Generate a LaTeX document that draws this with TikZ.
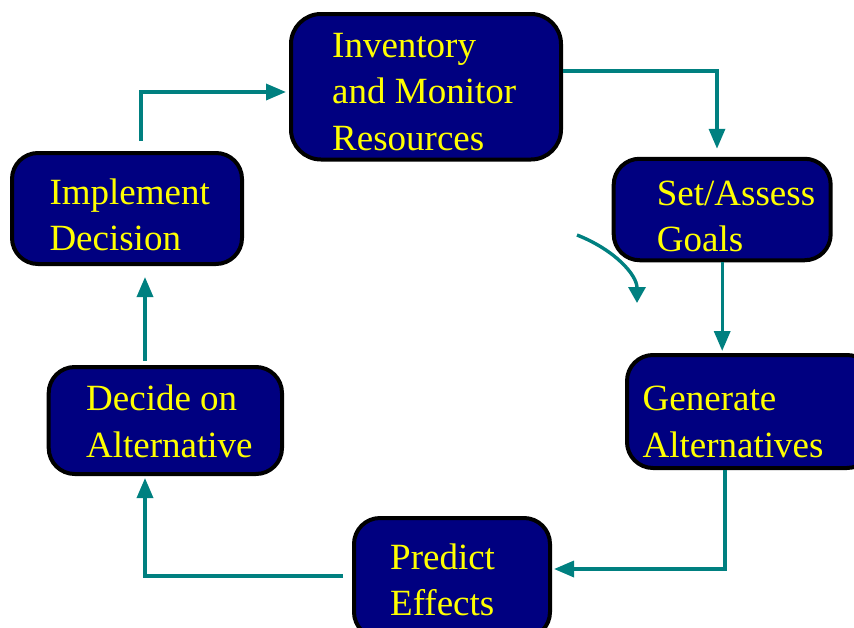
\documentclass[tikz,border=0pt]{standalone}
\usepackage{fontspec}
\setmainfont{Liberation Serif}
\usetikzlibrary{arrows.meta}

\definecolor{boxnavy}{RGB}{0,0,128}
\definecolor{flowteal}{RGB}{0,128,128}
\definecolor{labelyellow}{RGB}{255,255,0}

\tikzset{
  stagebox/.style={draw=black, line width=4pt, fill=boxnavy,
                   rounded corners=26pt, inner sep=0pt},
  stagetext/.style={anchor=base west, inner sep=0pt, text=labelyellow,
                    font=\fontsize{37}{46.5}\selectfont},
  flow/.style={draw=flowteal, line width=3.4pt,
               -{Triangle[length=20pt,width=16pt]}},
}

% left-aligned stack of lines whose baseline is that of the first line
\newcommand\stagelines[1]{\begin{tabular}[t]{@{}l@{}}#1\end{tabular}}

\begin{document}
\begin{tikzpicture}[x=1pt,y=-1pt]
  \clip (0,0) rectangle (854,627);

  % stage boxes
  \node[stagebox, rounded corners=30pt, minimum width=270pt, minimum height=145.5pt] (inv)  at (426,86.75) {};
  \node[stagebox, minimum width=217pt, minimum height=101.5pt]   (set)  at (722.2,209.5) {};
  \node[stagebox, minimum width=246pt, minimum height=113pt] (gen)  at (750,411.5) {};
  \node[stagebox, minimum width=196pt, minimum height=120pt] (pred) at (452,578) {};
  \node[stagebox, minimum width=233.3pt, minimum height=107pt] (dec)  at (165.35,420.5) {};
  \node[stagebox, minimum width=230pt, minimum height=111pt] (imp)  at (127,208.5) {};

  % stage labels
  \node[stagetext] (inv-t)  at (332,57)    {\stagelines{Inventory\\and Monitor\\Resources}};
  \node[stagetext] (set-t)  at (656.7,205) {\stagelines{Set/Assess\\Goals}};
  \node[stagetext] (gen-t)  at (642.5,410.7) {\stagelines{Generate\\Alternatives}};
  \node[stagetext] (pred-t) at (390,569.3) {\stagelines{Predict\\Effects}};
  \node[stagetext] (dec-t)  at (86,410.7)  {\stagelines{Decide on\\Alternative}};
  \node[stagetext] (imp-t)  at (49.3,204)  {\stagelines{Implement\\Decision}};

  % bend points of the connectors
  \coordinate (c1) at (141,92);
  \coordinate (c2) at (717,71);
  \coordinate (c4) at (725,569);
  \coordinate (c5) at (145,576);
  \coordinate (k1) at (577,235);
  \coordinate (k2) at (637,303);

  % cycle connectors
  \draw[flow, shorten <=10pt, shorten >=3pt] (imp.north -| c1) |- (inv.west |- c1);
  \draw[flow, shorten >=8pt] (inv.east |- c2) -| (set.north -| c2);
  \draw[flow, shorten >=2pt] (set.south) -- (gen.north -| set.south);
  \draw[flow, shorten >=2pt] (gen.south -| c4) |- (pred.east |- c4);
  \draw[flow, shorten <=9pt, shorten >=2pt] (pred.west |- c5) -| (dec.south -| c5);
  \draw[flow, shorten <=4pt, shorten >=11pt] (dec.north -| c5) -- (imp.south -| c5);

  % direction marker
  \draw[flow, -{Triangle[length=16pt,width=17pt]}]
    (k1) .. controls (615,250) and (637,275) .. (k2);
\end{tikzpicture}
\end{document}
